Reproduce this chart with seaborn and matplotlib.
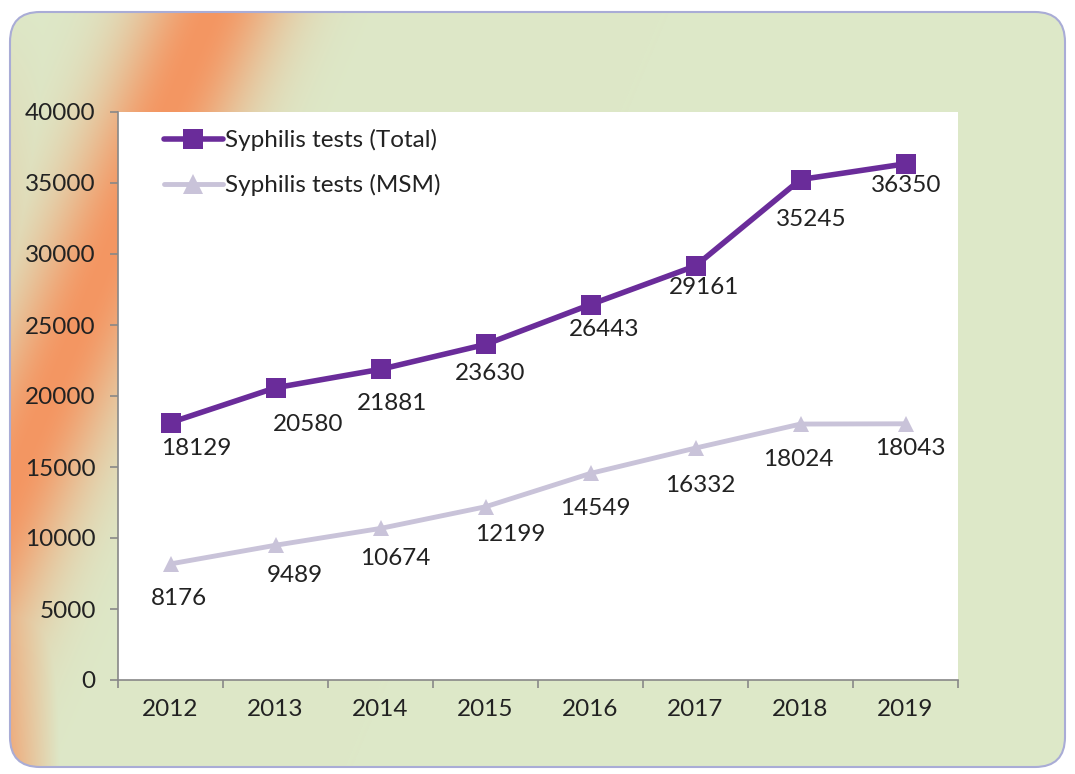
import numpy as np
import pandas as pd
import seaborn as sns
import matplotlib.pyplot as plt
from matplotlib.patches import FancyBboxPatch

years = ["2012", "2013", "2014", "2015", "2016", "2017", "2018", "2019"]
total_tests = [18129, 20580, 21881, 23630, 26443, 29161, 35245, 36350]
msm_tests = [8176, 9489, 10674, 12199, 14549, 16332, 18024, 18043]
series_names = ["Syphilis tests (Total)", "Syphilis tests (MSM)"]
y_ticks = [0, 5000, 10000, 15000, 20000, 25000, 30000, 35000, 40000]

PURPLE = "#6a2c9a"
LAVENDER = "#c9c3d9"
TEXT = "#222222"
FS = 17.5
FONT = ["Lato", "DejaVu Sans"]

sns.set_theme(style="white")
plt.rcParams["font.family"] = FONT

df = pd.DataFrame({
    "pos": list(range(len(years))) * 2,
    "value": total_tests + msm_tests,
    "series": [series_names[0]] * len(years) + [series_names[1]] * len(years),
})

fig = plt.figure(figsize=(10.75, 7.74), dpi=100)
fig.patch.set_facecolor("white")

# background panel: pale green with an orange glow on the left
bg = fig.add_axes([0, 0, 1, 1], zorder=0)
bg.set_xlim(0, 1075)
bg.set_ylim(774, 0)
bg.axis("off")
xx, yy = np.meshgrid(np.arange(1075), np.arange(774))
green = np.array([221, 232, 200]) / 255
orange = np.array([244, 150, 98]) / 255
center = 215 - 0.42 * yy
w = np.exp(-((xx - center) / 75.0) ** 2)
w = np.maximum(w, np.clip((60 - xx) / 60, 0, 1) * (yy / 774) * 0.9)
img = green[None, None, :] * (1 - w[..., None]) + orange[None, None, :] * w[..., None]
im = bg.imshow(img, extent=(0, 1075, 774, 0), aspect="auto")
panel = FancyBboxPatch((10, 12), 1055, 755, boxstyle="round,pad=0,rounding_size=30",
                       facecolor="none", edgecolor="#a9acd6", linewidth=1.5)
bg.add_patch(panel)
im.set_clip_path(panel)

ax = fig.add_axes([118 / 1075, 1 - 680 / 774, 840 / 1075, 568 / 774], zorder=1)
ax.set_facecolor("white")

sns.lineplot(
    data=df, x="pos", y="value", hue="series", style="series",
    palette={series_names[0]: PURPLE, series_names[1]: LAVENDER},
    markers={series_names[0]: "s", series_names[1]: "^"},
    dashes={series_names[0]: "", series_names[1]: ""},
    markersize=14.5, linewidth=4, markeredgewidth=0, ax=ax,
)
for line in ax.get_lines():
    if line.get_color() == LAVENDER:
        line.set_linewidth(3.5)
        line.set_markersize(12)

# data labels (pixel offsets from each point, as placed in the original)
offsets_total = [(26, -26), (33, -37), (12, -34), (5, -29), (14, -25), (9, -22), (11, -40), (1, -22)]
offsets_msm = [(8, -35), (19, -30), (15, -30), (25, -28), (5, -35), (5, -37), (-2, -35), (5, -25)]
for i, v in enumerate(total_tests):
    ax.annotate(str(v), (i, v), xytext=offsets_total[i], textcoords="offset pixels",
                ha="center", va="center", fontsize=FS, color=TEXT)
for i, v in enumerate(msm_tests):
    ax.annotate(str(v), (i, v), xytext=offsets_msm[i], textcoords="offset pixels",
                ha="center", va="center", fontsize=FS, color=TEXT)

ax.set_xlim(-0.5, len(years) - 0.5)
ax.set_ylim(0, 40000)
ax.set_xticks(range(len(years)))
ax.set_xticklabels(years)
ax.set_xticks(np.arange(-0.5, len(years)), minor=True)
ax.set_yticks(y_ticks)
ax.set_yticklabels([str(t) for t in y_ticks])
ax.tick_params(axis="x", which="major", length=0, pad=14, labelsize=FS, labelcolor=TEXT)
ax.tick_params(axis="x", which="minor", length=6, width=1.2, color="#888888", direction="out", bottom=True)
ax.tick_params(axis="y", length=6, width=1.2, color="#888888", direction="out", left=True,
               pad=10, labelsize=FS, labelcolor=TEXT)
ax.set_xlabel("")
ax.set_ylabel("")
for side in ["top", "right"]:
    ax.spines[side].set_visible(False)
for side in ["left", "bottom"]:
    ax.spines[side].set_color("#888888")
    ax.spines[side].set_linewidth(1.2)

leg = ax.legend(loc="upper left", bbox_to_anchor=(0.055, 0.97), frameon=False,
                fontsize=FS, handlelength=2.4, handletextpad=0.1, labelspacing=0.95,
                borderpad=0, borderaxespad=0, title=None)
for t in leg.get_texts():
    t.set_color(TEXT)
for h in leg.get_lines():
    h.set_markersize(14)

fig.savefig("out.png", dpi=100)
